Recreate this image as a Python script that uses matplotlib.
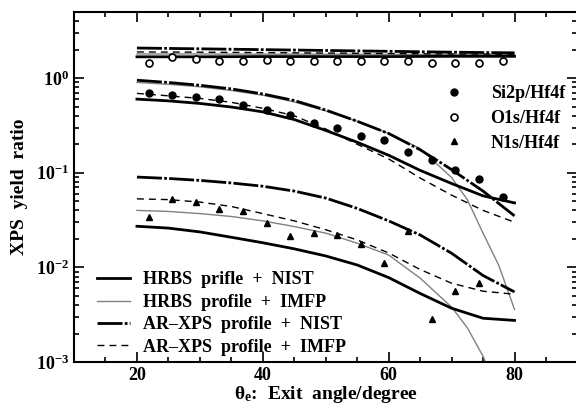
import matplotlib
matplotlib.use("Agg")
import matplotlib.pyplot as plt
from matplotlib.ticker import LogLocator, MultipleLocator, NullFormatter
from matplotlib.lines import Line2D

plt.rcParams['font.family'] = 'Liberation Serif'
plt.rcParams['font.weight'] = 'bold'
plt.rcParams['axes.labelweight'] = 'bold'
plt.rcParams['mathtext.default'] = 'regular'

# model curves (angle in degree)
ang = [20, 25, 30, 35, 40, 45, 50, 55, 60, 65, 70, 75, 80]
ang_gray = [20, 25, 30, 35, 40, 45, 50, 55, 60, 65, 70, 72.5, 75, 77.5, 80]
ang_o = [20, 30, 40, 50, 60, 70, 80]

# O1s/Hf4f
o_hrbs_nist = [1.68, 1.68, 1.69, 1.69, 1.69, 1.70, 1.70]
o_hrbs_imfp = [1.80, 1.80, 1.79, 1.79, 1.78, 1.78, 1.77]
o_ar_nist = [2.08, 2.04, 2.00, 1.96, 1.92, 1.88, 1.85]
o_ar_imfp = [1.89, 1.88, 1.86, 1.84, 1.82, 1.80, 1.79]

# Si2p/Hf4f
si_hrbs_nist = [0.60, 0.575, 0.54, 0.495, 0.44, 0.365, 0.28, 0.21, 0.153, 0.106, 0.077, 0.057, 0.048]
si_hrbs_imfp = [0.90, 0.86, 0.81, 0.74, 0.66, 0.56, 0.45, 0.35, 0.26, 0.18, 0.089, 0.052, 0.023, 0.0105, 0.0036]
si_ar_nist = [0.95, 0.90, 0.84, 0.77, 0.68, 0.58, 0.46, 0.35, 0.26, 0.175, 0.108, 0.064, 0.035]
si_ar_imfp = [0.69, 0.65, 0.61, 0.555, 0.48, 0.40, 0.29, 0.20, 0.14, 0.088, 0.058, 0.040, 0.030]

# N1s/Hf4f
n_hrbs_nist = [0.0272, 0.026, 0.0237, 0.0208, 0.0182, 0.0157, 0.0132, 0.0106, 0.0078, 0.0053, 0.0037, 0.0029, 0.00275]
n_hrbs_imfp = [0.040, 0.039, 0.037, 0.0345, 0.031, 0.027, 0.023, 0.018, 0.0135, 0.0077, 0.0038, 0.0023, 0.00115, 0.00045, 0.00018]
n_ar_nist = [0.090, 0.087, 0.083, 0.078, 0.072, 0.064, 0.054, 0.042, 0.031, 0.022, 0.0141, 0.0082, 0.0055]
n_ar_imfp = [0.053, 0.052, 0.049, 0.044, 0.037, 0.031, 0.025, 0.0195, 0.0142, 0.0095, 0.0068, 0.0056, 0.0052]

# measured points
ang_pts = [21.9, 25.6, 29.4, 33.1, 36.9, 40.6, 44.4, 48.1, 51.8, 55.6, 59.3, 63.1, 66.9, 70.6, 74.3, 78.1]
si_pts = [0.69, 0.662, 0.626, 0.605, 0.52, 0.461, 0.411, 0.336, 0.30, 0.247, 0.224, 0.165, 0.137, 0.108, 0.0859, 0.0555]
o_pts = [1.43, 1.68, 1.61, 1.52, 1.52, 1.55, 1.52, 1.52, 1.52, 1.52, 1.52, 1.52, 1.45, 1.46, 1.46, 1.51]
n_pts = [0.0342, 0.0529, 0.0492, 0.0415, 0.0398, 0.0296, 0.0217, 0.0228, 0.0222, 0.0175, 0.0112, 0.0241, 0.00284, 0.00563, 0.0069]

fig = plt.figure(figsize=(5.76, 4.05), dpi=100)
ax = fig.add_axes([0.1285, 0.1062, 0.874, 0.8642])

solid = dict(color='black', lw=2.0, ls='-')
gray = dict(color='#808080', lw=1.0, ls='-')
dashdot = dict(color='black', lw=2.0, ls=(0, (9, 0.8, 1.0, 0.8)))
dashed = dict(color='black', lw=1.0, ls=(0, (5, 3.6)))

ax.plot(ang_o, o_hrbs_imfp, **gray)
ax.plot(ang_o, o_hrbs_nist, **solid)
ax.plot(ang_o, o_ar_imfp, **dashed)
ax.plot(ang_o, o_ar_nist, **dashdot)

ax.plot(ang_gray, si_hrbs_imfp, **gray)
ax.plot(ang, si_hrbs_nist, **solid)
ax.plot(ang, si_ar_imfp, **dashed)
ax.plot(ang, si_ar_nist, **dashdot)

ax.plot(ang_gray, n_hrbs_imfp, **gray)
ax.plot(ang, n_hrbs_nist, **solid)
ax.plot(ang, n_ar_imfp, **dashed)
ax.plot(ang, n_ar_nist, **dashdot)

ax.plot(ang_pts, si_pts, 'o', color='black', ms=5, ls='none')
ax.plot(ang_pts, o_pts, 'o', mfc='white', mec='black', mew=1.2, ms=5, ls='none')
ax.plot(ang_pts[:15], n_pts, '^', color='black', ms=4.5, ls='none')

ax.set_yscale('log')
ax.set_xlim(10, 90)
ax.set_ylim(1e-3, 5)
ax.xaxis.set_minor_locator(MultipleLocator(5))
ax.yaxis.set_major_locator(LogLocator(base=10, numticks=10))
ax.yaxis.set_minor_locator(LogLocator(base=10, subs=range(2, 10), numticks=10))
ax.yaxis.set_minor_formatter(NullFormatter())
ax.set_xticks([20, 40, 60, 80])

ax.tick_params(which='both', direction='in', top=True, right=True, width=1.2)
ax.tick_params(which='major', length=7, labelsize=13)
ax.tick_params(which='minor', length=3.5)
for s in ax.spines.values():
    s.set_linewidth(1.5)

ax.set_xlabel(r'θ$_{e}$:  Exit  angle/degree', fontsize=14, labelpad=0)
ax.set_ylabel('XPS  yield  ratio', fontsize=14, labelpad=6)

handles = [Line2D([], [], **solid), Line2D([], [], **gray),
           Line2D([], [], **dashdot), Line2D([], [], **dashed)]
labels = ['HRBS  prifle  +  NIST', 'HRBS  profile  +  IMFP',
          'AR–XPS  profile  +  NIST', 'AR–XPS  profile  +  IMFP']
leg1 = ax.legend(handles, labels, loc='lower left', bbox_to_anchor=(0.045, 0.018),
                 frameon=False, fontsize=13, handlelength=1.85, handletextpad=0.7,
                 labelspacing=0.3, borderpad=0, borderaxespad=0)
ax.add_artist(leg1)

mh = [Line2D([], [], marker='o', color='black', ls='none', ms=5),
      Line2D([], [], marker='o', mfc='white', mec='black', mew=1.2, ls='none', ms=5),
      Line2D([], [], marker='^', color='black', ls='none', ms=4.5)]
ax.legend(mh, ['Si2p/Hf4f', 'O1s/Hf4f', 'N1s/Hf4f'], loc='upper right',
          bbox_to_anchor=(0.975, 0.79), frameon=False, fontsize=13,
          handletextpad=1.0, labelspacing=0.42, borderpad=0, borderaxespad=0)

fig.savefig('out.png', dpi=100)
